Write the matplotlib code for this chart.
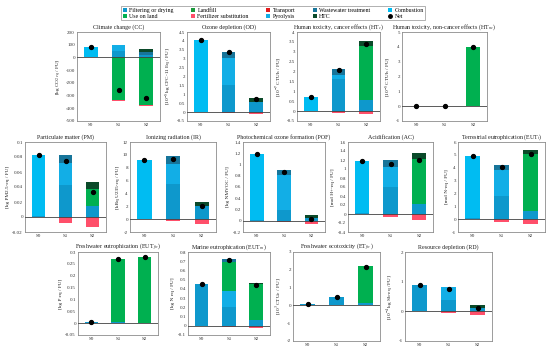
import matplotlib
matplotlib.use('Agg')
import matplotlib.pyplot as plt
from matplotlib.patches import Patch
from matplotlib.lines import Line2D
from matplotlib.ticker import FuncFormatter, MultipleLocator
import numpy as np

plt.rcParams['font.family'] = ['Liberation Serif', 'DejaVu Serif']
plt.rcParams['mathtext.fontset'] = 'stix'
plt.rcParams['axes.unicode_minus'] = False

scenarios = ['S0', 'S1', 'S2']

# legend order (column-major in a 2-row legend)
legend_order = ['Filtering or drying', 'Use on land', 'Landfill', 'Fertilizer substitution',
                'Transport', 'Pyrolysis', 'Wastewater treatment', 'HTC', 'Combustion']
stack_order = ['Filtering or drying', 'Transport', 'Combustion', 'Pyrolysis', 'Use on land',
               'Landfill', 'Wastewater treatment', 'HTC', 'Fertilizer substitution']
colors = {
    'Filtering or drying': '#0E98CC',
    'Use on land': '#00B050',
    'Landfill': '#1A9A3C',
    'Fertilizer substitution': '#FF4F6A',
    'Transport': '#E41A1C',
    'Pyrolysis': '#12AEE6',
    'Wastewater treatment': '#17759A',
    'HTC': '#0B4A2A',
    'Combustion': '#00BCF2',
}

# ---------------- data ----------------
cc_values = {'Filtering or drying': [5, 50, 18], 'Transport': [0, 3, 3], 'Combustion': [75, 0, 0],
             'Pyrolysis': [0, 42, 0], 'Use on land': [0, -338, -375], 'Wastewater treatment': [0, 0, 25],
             'HTC': [0, 0, 20], 'Fertilizer substitution': [0, -6, -9]}
cc_net = [81, -255, -320]

od_values = {'Filtering or drying': [0.02, 1.55, 0.55], 'Combustion': [4.03, 0, 0], 'Pyrolysis': [0, 1.5, 0],
             'Wastewater treatment': [0, 0.35, 0.03], 'HTC': [0, 0, 0.22], 'Fertilizer substitution': [0, -0.05, -0.08]}
od_net = [4.06, 3.35, 0.72]

htc_values = {'Filtering or drying': [0.02, 1.6, 0.55], 'Combustion': [0.7, 0, 0], 'Pyrolysis': [0, 0.25, 0],
              'Wastewater treatment': [0, 0.3, 0], 'Use on land': [0, 0, 2.75], 'HTC': [0, 0, 0.25],
              'Fertilizer substitution': [0, -0.08, -0.15]}
htc_net = [0.72, 2.07, 3.4]

htnc_values = {'Filtering or drying': [0.01, 0.01, 0.0], 'Use on land': [0, 0, 4.0]}
htnc_net = [0.01, 0.01, 4.0]

pm_values = {'Filtering or drying': [0.001, 0.043, 0.015], 'Combustion': [0.082, 0, 0], 'Pyrolysis': [0, 0.029, 0],
             'Wastewater treatment': [0, 0.011, 0], 'Use on land': [0, 0, 0.023], 'HTC': [0, 0, 0.009],
             'Fertilizer substitution': [0, -0.008, -0.013]}
pm_net = [0.083, 0.075, 0.034]

ir_values = {'Filtering or drying': [0.05, 5.4, 2.0], 'Combustion': [9.15, 0, 0], 'Pyrolysis': [0, 3.2, 0],
             'Wastewater treatment': [0, 1.2, 0], 'HTC': [0, 0, 0.7], 'Fertilizer substitution': [0, -0.3, -0.7]}
ir_net = [9.2, 9.4, 2.0]

pof_values = {'Filtering or drying': [0.01, 0.2, 0.05], 'Combustion': [1.18, 0, 0], 'Pyrolysis': [0, 0.62, 0],
              'Wastewater treatment': [0, 0.08, 0], 'HTC': [0, 0, 0.05], 'Fertilizer substitution': [-0.01, -0.03, -0.05]}
pof_net = [1.19, 0.86, 0.03]

ac_values = {'Filtering or drying': [0.02, 0.6, 0.22], 'Combustion': [1.15, 0, 0], 'Pyrolysis': [0, 0.45, 0],
             'Wastewater treatment': [0, 0.15, 0], 'Use on land': [0, 0, 1.0], 'HTC': [0, 0, 0.13],
             'Fertilizer substitution': [0, -0.06, -0.14]}
ac_net = [1.17, 1.12, 1.21]

eutt_values = {'Filtering or drying': [0.1, 1.8, 0.6], 'Combustion': [4.85, 0, 0], 'Pyrolysis': [0, 2.0, 0],
               'Wastewater treatment': [0, 0.45, 0], 'Use on land': [0, 0, 4.45], 'HTC': [0, 0, 0.35],
               'Fertilizer substitution': [0, -0.2, -0.35]}
eutt_net = [4.95, 4.05, 5.05]

eutfw_values = {'Filtering or drying': [0.005, 0.004, 0.002], 'Use on land': [0, 0.268, 0.276]}
eutfw_net = [0.005, 0.27, 0.277]

eutm_values = {'Filtering or drying': [0.45, 0.2, 0.06], 'Pyrolysis': [0, 0.18, 0], 'Use on land': [0, 0.31, 0.39],
               'Wastewater treatment': [0, 0.03, 0], 'HTC': [0, 0, 0.01], 'Fertilizer substitution': [0, -0.01, -0.02]}
eutm_net = [0.455, 0.71, 0.44]

etfw_values = {'Filtering or drying': [0.1, 0.5, 0.15], 'Use on land': [0, 0, 2.05]}
etfw_net = [0.1, 0.48, 2.17]

rd_values = {'Filtering or drying': [0.9, 0.38, 0.12], 'Pyrolysis': [0, 0.44, 0], 'HTC': [0, 0, 0.1],
             'Fertilizer substitution': [0, -0.05, -0.12]}
rd_net = [0.9, 0.76, 0.12]

# ---------------- layout ----------------
W, H = 550, 353
fig = plt.figure(figsize=(W / 100, H / 100), dpi=100)


def box(x0, x1, ytop, ybot):
    return [x0 / W, 1 - ybot / H, (x1 - x0) / W, (ybot - ytop) / H]


panels = [
    ('Climate change (CC)', '[kg CO$_{2\\ eq}$ / FU]', cc_values, cc_net, (-500, 200, 100), box(77, 160, 32, 121)),
    ('Ozone depletion (OD)', '[10$^{-5}$ kg CFC-11 Eq / FU]', od_values, od_net, (-0.5, 4.5, 0.5), box(187, 270, 32, 121)),
    ('Human toxicity, cancer effects (HT$_c$)', '[10$^{-7}$ CTUh / FU]', htc_values, htc_net, (-0.5, 4, 0.5), box(297, 380, 32, 121)),
    ('Human toxicity, non-cancer effects (HT$_{nc}$)', '[10$^{-5}$ CTUh / FU]', htnc_values, htnc_net, (-1, 5, 1), box(402, 487, 32, 121)),
    ('Particulate matter (PM)', '[kg PM2.5-eq / FU]', pm_values, pm_net, (-0.02, 0.1, 0.02), box(25, 106, 142, 232)),
    ('Ionizing radiation (IR)', '[kBq U235-eq / FU]', ir_values, ir_net, (-2, 12, 2), box(130, 216, 142, 232)),
    ('Photochemical ozone formation (POF)', '[kg NMVOC / FU]', pof_values, pof_net, (-0.2, 1.4, 0.2), box(243, 325, 142, 232)),
    ('Acidification (AC)', '[mol H+-eq / FU]', ac_values, ac_net, (-0.4, 1.6, 0.2), box(348, 433, 142, 232)),
    ('Terrestrial eutrophication (EUT$_t$)', '[mol N-eq / FU]', eutt_values, eutt_net, (-1, 6, 1), box(458, 545, 142, 232)),
    ('Freshwater eutrophication (EUT$_{fw}$)', '[kg P eq / FU]', eutfw_values, eutfw_net, (-0.05, 0.3, 0.05), box(78, 158, 252, 335)),
    ('Marine eutrophication (EUT$_m$)', '[kg N eq / FU]', eutm_values, eutm_net, (-0.1, 0.8, 0.1), box(188, 270, 252, 335)),
    ('Freshwater ecotoxicity (ET$_{fw}$)', '[10$^3$ CTUe / FU]', etfw_values, etfw_net, (-2, 3, 1), box(293, 380, 252, 341)),
    ('Resource depletion (RD)', '[10$^{-4}$ kg Sb-eq / FU]', rd_values, rd_net, (-1, 2, 1), box(405, 492, 252, 341)),
]

fmt = FuncFormatter(lambda v, p: ('%g' % round(v, 6)))
x = np.arange(len(scenarios))
bw = 0.5

for title, ylab, vals, net, (ymin, ymax, step), rect in panels:
    ax = fig.add_axes(rect)
    pos_base = np.zeros(3)
    neg_base = np.zeros(3)
    for comp in stack_order:
        if comp not in vals:
            continue
        v = np.array(vals[comp], dtype=float)
        p = np.where(v > 0, v, 0)
        n = np.where(v < 0, v, 0)
        if p.any():
            ax.bar(x, p, bw, bottom=pos_base, color=colors[comp], linewidth=0, zorder=2)
            pos_base += p
        if n.any():
            ax.bar(x, n, bw, bottom=neg_base, color=colors[comp], linewidth=0, zorder=2)
            neg_base += n
    ax.plot(x, net, 'o', color='black', markersize=2.8, zorder=4)
    ax.axhline(0, color='#404040', linewidth=0.6, zorder=3)
    ax.set_xlim(-0.5, 2.5)
    ax.set_ylim(ymin, ymax)
    ax.yaxis.set_major_locator(MultipleLocator(step))
    ax.yaxis.set_major_formatter(fmt)
    ax.set_xticks(x)
    ax.set_xticklabels(scenarios)
    ax.tick_params(axis='both', length=0, labelsize=3.6, pad=1.5, colors='#303030')
    for s in ax.spines.values():
        s.set_color('#8C8C8C')
        s.set_linewidth(0.6)
    ax.set_title(title, fontsize=4.3, pad=2.5, color='#202020')
    ax.set_ylabel(ylab, fontsize=3.8, labelpad=2, color='#202020')

handles = []
for comp in legend_order:
    handles.append(Patch(facecolor=colors[comp], edgecolor='none', label=comp))
handles.append(Line2D([], [], marker='o', color='black', linestyle='none', markersize=2.5, label='Net'))
leg = fig.legend(handles=handles, loc='upper left', bbox_to_anchor=(118 / W, 1 - 3 / H), ncol=5,
                 fontsize=4.2, frameon=True, fancybox=False, handlelength=0.7, handleheight=0.7,
                 handletextpad=0.4, columnspacing=3.0, borderpad=0.3, labelspacing=0.15)
leg.get_frame().set_edgecolor('#8C8C8C')
leg.get_frame().set_linewidth(0.6)

fig.savefig('out.png', dpi=100)
